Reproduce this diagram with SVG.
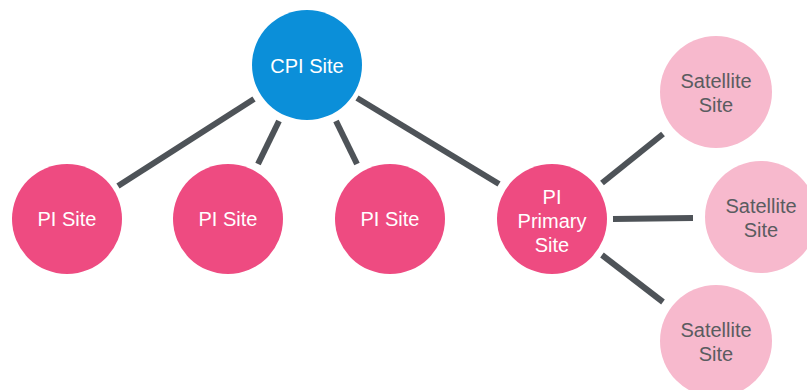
<svg xmlns="http://www.w3.org/2000/svg" width="807" height="390" viewBox="0 0 807 390">
<style>
.edge{stroke:#4e5358;stroke-width:6;stroke-linecap:butt;fill:none}
.cpi{fill:#0b8fd9}
.pi{fill:#ee4b81}
.sat{fill:#f7b9cd}
text{font-family:"Liberation Sans",Arial,sans-serif;font-size:20px;text-anchor:middle}
.lw{fill:#ffffff}
.ld{fill:#5a5c60}
</style>
<rect width="807" height="390" fill="#ffffff"/>
<g id="connectors">
<line class="edge" x1="118" y1="186" x2="254" y2="99"/>
<line class="edge" x1="258" y1="164" x2="279" y2="121"/>
<line class="edge" x1="357" y1="164" x2="336" y2="121"/>
<line class="edge" x1="357" y1="98" x2="499" y2="184"/>
<line class="edge" x1="602" y1="183" x2="663" y2="134"/>
<line class="edge" x1="613" y1="219" x2="693" y2="218"/>
<line class="edge" x1="602" y1="255" x2="663" y2="302"/>
</g>
<g id="cpi-site">
<circle class="cpi" cx="307" cy="65" r="55"/>
<text class="lw" x="307" y="73">CPI Site</text>
</g>
<g id="pi-site-1">
<circle class="pi" cx="67" cy="219" r="55"/>
<text class="lw" x="67" y="226">PI Site</text>
</g>
<g id="pi-site-2">
<circle class="pi" cx="228" cy="219" r="55"/>
<text class="lw" x="228" y="226">PI Site</text>
</g>
<g id="pi-site-3">
<circle class="pi" cx="390" cy="219" r="55"/>
<text class="lw" x="390" y="226">PI Site</text>
</g>
<g id="pi-primary-site">
<circle class="pi" cx="552" cy="219" r="55"/>
<text class="lw" x="552" y="204">PI</text>
<text class="lw" x="552" y="228">Primary</text>
<text class="lw" x="552" y="252">Site</text>
</g>
<g id="satellite-site-1">
<circle class="sat" cx="716" cy="92" r="56"/>
<text class="ld" x="716" y="88">Satellite</text>
<text class="ld" x="716" y="112">Site</text>
</g>
<g id="satellite-site-2">
<circle class="sat" cx="761" cy="217" r="56"/>
<text class="ld" x="761" y="213">Satellite</text>
<text class="ld" x="761" y="237">Site</text>
</g>
<g id="satellite-site-3">
<circle class="sat" cx="716" cy="341" r="56"/>
<text class="ld" x="716" y="337">Satellite</text>
<text class="ld" x="716" y="361">Site</text>
</g>
</svg>
